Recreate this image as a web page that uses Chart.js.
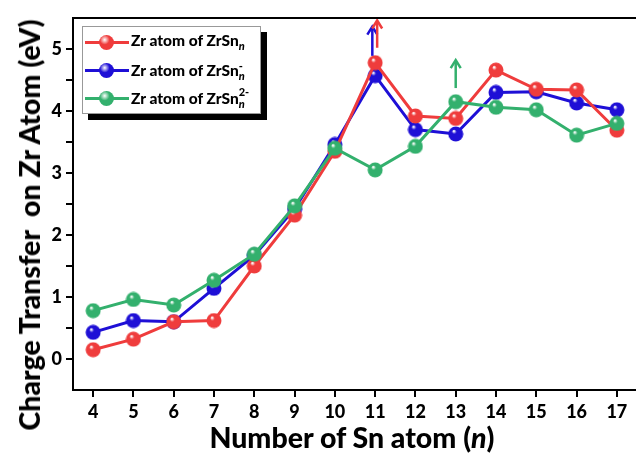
<!DOCTYPE html>
<html>
<head>
<meta charset="utf-8">
<script src="https://cdn.jsdelivr.net/npm/chart.js@4"></script>
<style>
  body { margin: 0; width: 636px; height: 459px; overflow: hidden; background: #fff; font-family: Lato, sans-serif; }
  #wrap { position: absolute; left: 0; top: 0; width: 648px; height: 459px; }
  .ttl { position: absolute; font-weight: 900; color: #000; white-space: nowrap; }
  #xTitle { left: 352px; top: 437px; font-size: 28.5px; transform: translate(-50%, -50%); }
  #yTitle { left: 29px; top: 225px; font-size: 28.5px; transform: translate(-50%, -50%) rotate(-90deg); }
  #legend { position: absolute; left: 82px; top: 26px; width: 177px; height: 86px; background: #fff;
            border: 1px solid #999; box-shadow: 6px 6px 0 #000; }
  .row { position: absolute; left: 0; height: 20px; font-weight: 900; font-size: 15.5px; }
  .row .ln { position: absolute; left: 2px; top: 10px; width: 44px; height: 3px; }
  .row .ball { position: absolute; left: 16px; top: 4px; width: 15px; height: 15px; border-radius: 50%; }
  .row .tx { position: absolute; left: 48px; top: 0; white-space: nowrap; }
  sub, sup { font-size: 11px; }
</style>
</head>
<body>
<div id="wrap"><canvas id="chart"></canvas></div>
<div id="yTitle" class="ttl">Charge Transfer&nbsp; on Zr Atom (eV)</div>
<div id="xTitle" class="ttl">Number of Sn atom (<i>n</i>)</div>
<div id="legend"></div>
<script>
// n values (x axis)
const nValues = [4, 5, 6, 7, 8, 9, 10, 11, 12, 13, 14, 15, 16, 17];
// charge transfer on Zr atom (eV)
const zrSnNeutral = [0.15, 0.32, 0.60, 0.62, 1.50, 2.32, 3.35, 4.78, 3.92, 3.88, 4.66, 4.35, 4.34, 3.69];
const zrSnAnion   = [0.43, 0.62, 0.60, 1.14, 1.67, 2.42, 3.46, 4.57, 3.70, 3.63, 4.30, 4.31, 4.13, 4.02];
const zrSnDianion = [0.78, 0.96, 0.87, 1.27, 1.69, 2.47, 3.40, 3.05, 3.43, 4.15, 4.06, 4.02, 3.61, 3.80];
const yTickValues = [0, 0.5, 1, 1.5, 2, 2.5, 3, 3.5, 4, 4.5, 5];

const RED = '#ef3c3c', BLUE = '#1e0fd6', GREEN = '#33b06d';

// arrows marking the peaks (data coords)
const arrows = [
  { x: 10.93, from: 4.89, to: 5.36, color: BLUE },
  { x: 11.05, from: 5.02, to: 5.46, color: RED },
  { x: 13.0, from: 4.37, to: 4.82, color: GREEN }
];

function ball(color) {
  const c = document.createElement('canvas');
  c.width = 16; c.height = 16;
  const g = c.getContext('2d');
  const grad = g.createRadialGradient(6, 5, 0.5, 8, 8, 8);
  grad.addColorStop(0, '#ffffff');
  grad.addColorStop(0.25, color);
  grad.addColorStop(1, color);
  g.fillStyle = grad;
  g.beginPath();
  g.arc(8, 8, 7.5, 0, Math.PI * 2);
  g.fill();
  return c;
}

// legend
const legendItems = [
  { color: RED, html: 'Zr atom of ZrSn<sub><i>n</i></sub>' },
  { color: BLUE, html: 'Zr atom of ZrSn<sub><i>n</i></sub><sup style="margin-left:-6px">-</sup>' },
  { color: GREEN, html: 'Zr atom of ZrSn<sub><i>n</i></sub><sup style="margin-left:-6px;position:relative;top:-2px">2-</sup>' }
];
const legend = document.getElementById('legend');
legendItems.forEach((it, i) => {
  const r = document.createElement('div');
  r.className = 'row';
  r.style.top = (4 + i * 28) + 'px';
  r.innerHTML = `<div class="ln" style="background:${it.color}"></div>
    <div class="ball" style="background:radial-gradient(circle at 38% 32%, #fff 0, ${it.color} 35%, ${it.color} 100%)"></div>
    <div class="tx">${it.html}</div>`;
  legend.appendChild(r);
});

const framePlugin = {
  id: 'frame',
  afterDraw(chart) {
    const { ctx, chartArea } = chart;
    ctx.save();
    ctx.strokeStyle = '#000';
    ctx.lineWidth = 2;
    ctx.beginPath();
    ctx.moveTo(chartArea.left - 1, chartArea.top);
    ctx.lineTo(chartArea.right, chartArea.top);
    ctx.stroke();
    ctx.restore();
  }
};

const arrowPlugin = {
  id: 'arrows',
  afterDatasetsDraw(chart) {
    const { ctx } = chart;
    const xs = chart.scales.x, ys = chart.scales.y;
    ctx.save();
    arrows.forEach(a => {
      const x = xs.getPixelForValue(a.x);
      const y0 = ys.getPixelForValue(a.from);
      const y1 = ys.getPixelForValue(a.to);
      ctx.strokeStyle = a.color;
      ctx.lineWidth = 2.5;
      ctx.beginPath();
      ctx.moveTo(x, y0);
      ctx.lineTo(x, y1 + 1);
      ctx.stroke();
      ctx.beginPath();
      ctx.moveTo(x - 5, y1 + 8);
      ctx.lineTo(x, y1);
      ctx.lineTo(x + 5, y1 + 8);
      ctx.stroke();
    });
    ctx.restore();
  }
};

function series(data, color, order) {
  return {
    data: data.map((v, i) => ({ x: nValues[i], y: v })),
    borderColor: color,
    borderWidth: 3,
    pointStyle: ball(color),
    pointRadius: 8,
    order: order
  };
}

const tickFont = { family: 'Lato', size: 18, weight: '900' };

new Chart(document.getElementById('chart'), {
  type: 'line',
  data: {
    datasets: [
      series(zrSnNeutral, RED, 1),
      series(zrSnAnion, BLUE, 2),
      series(zrSnDianion, GREEN, 0)
    ]
  },
  options: {
    responsive: true,
    maintainAspectRatio: false,
    animation: false,
    layout: { padding: { top: 18, right: 6, left: 0, bottom: 0 } },
    plugins: { legend: { display: false }, tooltip: { enabled: false } },
    scales: {
      x: {
        type: 'linear',
        min: 3.5,
        max: 17.5,
        afterBuildTicks: s => { s.ticks = nValues.map(v => ({ value: v })); },
        afterFit: s => { s.height = 69; },
        ticks: { color: '#000', font: tickFont, padding: 4, maxRotation: 0, autoSkip: false },
        grid: { drawOnChartArea: false, color: '#000', lineWidth: 2, tickLength: 7 },
        border: { color: '#000', width: 2 }
      },
      y: {
        min: -0.5,
        max: 5.5,
        afterBuildTicks: s => { s.ticks = yTickValues.map(v => ({ value: v })); },
        afterFit: s => { s.width = 73; },
        ticks: {
          color: '#000',
          font: tickFont,
          padding: 4,
          callback: v => Number.isInteger(v) ? v : ''
        },
        grid: { drawOnChartArea: false, color: '#000', lineWidth: 2, tickLength: 7 },
        border: { color: '#000', width: 2 }
      }
    }
  },
  plugins: [framePlugin, arrowPlugin]
});
</script>
</body>
</html>
